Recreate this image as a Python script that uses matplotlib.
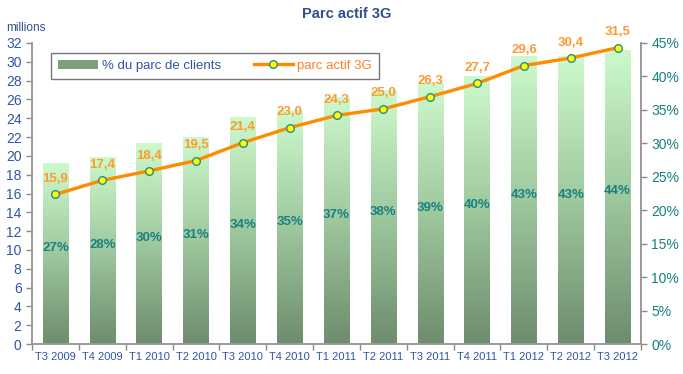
import matplotlib
matplotlib.use("Agg")
import matplotlib.pyplot as plt
import numpy as np
from matplotlib.colors import LinearSegmentedColormap
from matplotlib.lines import Line2D
from matplotlib.patches import Patch

plt.rcParams['font.family'] = ['Liberation Sans', 'DejaVu Sans']

categories = ["T3 2009", "T4 2009", "T1 2010", "T2 2010", "T3 2010", "T4 2010",
              "T1 2011", "T2 2011", "T3 2011", "T4 2011", "T1 2012", "T2 2012", "T3 2012"]
pct_clients = [27, 28, 30, 31, 34, 35, 37, 38, 39, 40, 43, 43, 44]
parc_3g = [15.9, 17.4, 18.4, 19.5, 21.4, 23.0, 24.3, 25.0, 26.3, 27.7, 29.6, 30.4, 31.5]
left_ticks = list(range(0, 33, 2))
right_ticks = list(range(0, 46, 5))

fig = plt.figure(figsize=(6.83, 3.74), dpi=100)
ax = fig.add_axes([32/683, 1-344/374, (641-32)/683, (344-43)/374])
ax2 = ax.twinx()
ax.set_zorder(ax2.get_zorder() + 1)
ax.patch.set_visible(False)

x = np.arange(len(categories))
cmap = LinearSegmentedColormap.from_list("g", ["#6e8c6e", "#9ec89e", "#cdfacd"])
bars = ax2.bar(x, pct_clients, width=0.54, color="none", edgecolor="none")
grad = np.linspace(0, 1, 256).reshape(-1, 1)
for r in bars:
    bx, by, bw, bh = r.get_x(), r.get_y(), r.get_width(), r.get_height()
    im = ax2.imshow(grad, extent=[bx, bx + bw, by, by + bh], origin="lower",
                    aspect="auto", cmap=cmap, zorder=1)
    im.set_clip_path(r)
for xi, v in zip(x, pct_clients):
    ax2.text(xi, v / 2 + 0.8, f"{v}%", ha="center", va="center", color="#1a8080",
             fontsize=9.5, fontweight="bold", zorder=3)

ax2.set_ylim(0, 45)
ax2.set_xlim(-0.5, len(categories) - 0.5)
ax2.set_yticks(right_ticks)
ax2.set_yticklabels([f"{t}%" for t in right_ticks])
ax2.tick_params(axis="y", colors="#8a8a8a", labelcolor="#17807f", labelsize=10,
                length=4, width=1)

ax.plot(x, parc_3g, color="#ff8c00", lw=2.4, marker="o", markersize=5.5,
        markerfacecolor="#ffff00", markeredgecolor="#2a8a8a", markeredgewidth=1, zorder=4)
for xi, v in zip(x, parc_3g):
    ax.text(xi, v + 1.0, f"{v:.1f}".replace(".", ","), ha="center", va="bottom",
            color="#ff9a33", fontsize=9.5, fontweight="bold", zorder=5)

ax.set_ylim(0, 32)
ax.set_xlim(-0.5, len(categories) - 0.5)
ax.set_yticks(left_ticks)
ax.tick_params(axis="y", colors="#8a8a8a", labelcolor="#2f55a4", labelsize=10,
               length=4, width=1)
ax.set_xticks(x)
ax.set_xticklabels(categories)
ax.set_xticks(np.arange(-0.5, len(categories), 1), minor=True)
ax.tick_params(axis="x", which="major", length=0, labelsize=8, labelcolor="#2f55a4", pad=6)
ax.tick_params(axis="x", which="minor", length=4, color="#8a8a8a", width=1)

for a in (ax, ax2):
    a.spines["top"].set_visible(False)
    for s in ("left", "right", "bottom"):
        a.spines[s].set_color("#9a9a9a")
        a.spines[s].set_linewidth(1.2)

fig.text(347/683, 1-14/374, "Parc actif 3G", ha="center", va="center",
         fontsize=10.5, fontweight="bold", color="#2f4f8f")
fig.text(6/683, 1-28/374, "millions", ha="left", va="center", fontsize=8.5, color="#2f4f8f")

handles = [Patch(facecolor="#7f9f7f", edgecolor="none"),
           Line2D([], [], color="#ff8c00", lw=2.4, marker="o", markersize=5.5,
                  markerfacecolor="#ffff00", markeredgecolor="#2a8a8a")]
leg = fig.legend(handles, ["% du parc de clients", "parc actif 3G"], ncol=2,
                 loc="center", bbox_to_anchor=(215/683, 1-66/374), fontsize=9.5,
                 frameon=True, fancybox=False, edgecolor="#555555",
                 handlelength=3.0, columnspacing=2.5, borderpad=0.5, handletextpad=0.3)
leg.get_frame().set_linewidth(1.0)
for t, c in zip(leg.get_texts(), ["#2f55a4", "#ff7f2a"]):
    t.set_color(c)

fig.savefig("out.png", dpi=100)
